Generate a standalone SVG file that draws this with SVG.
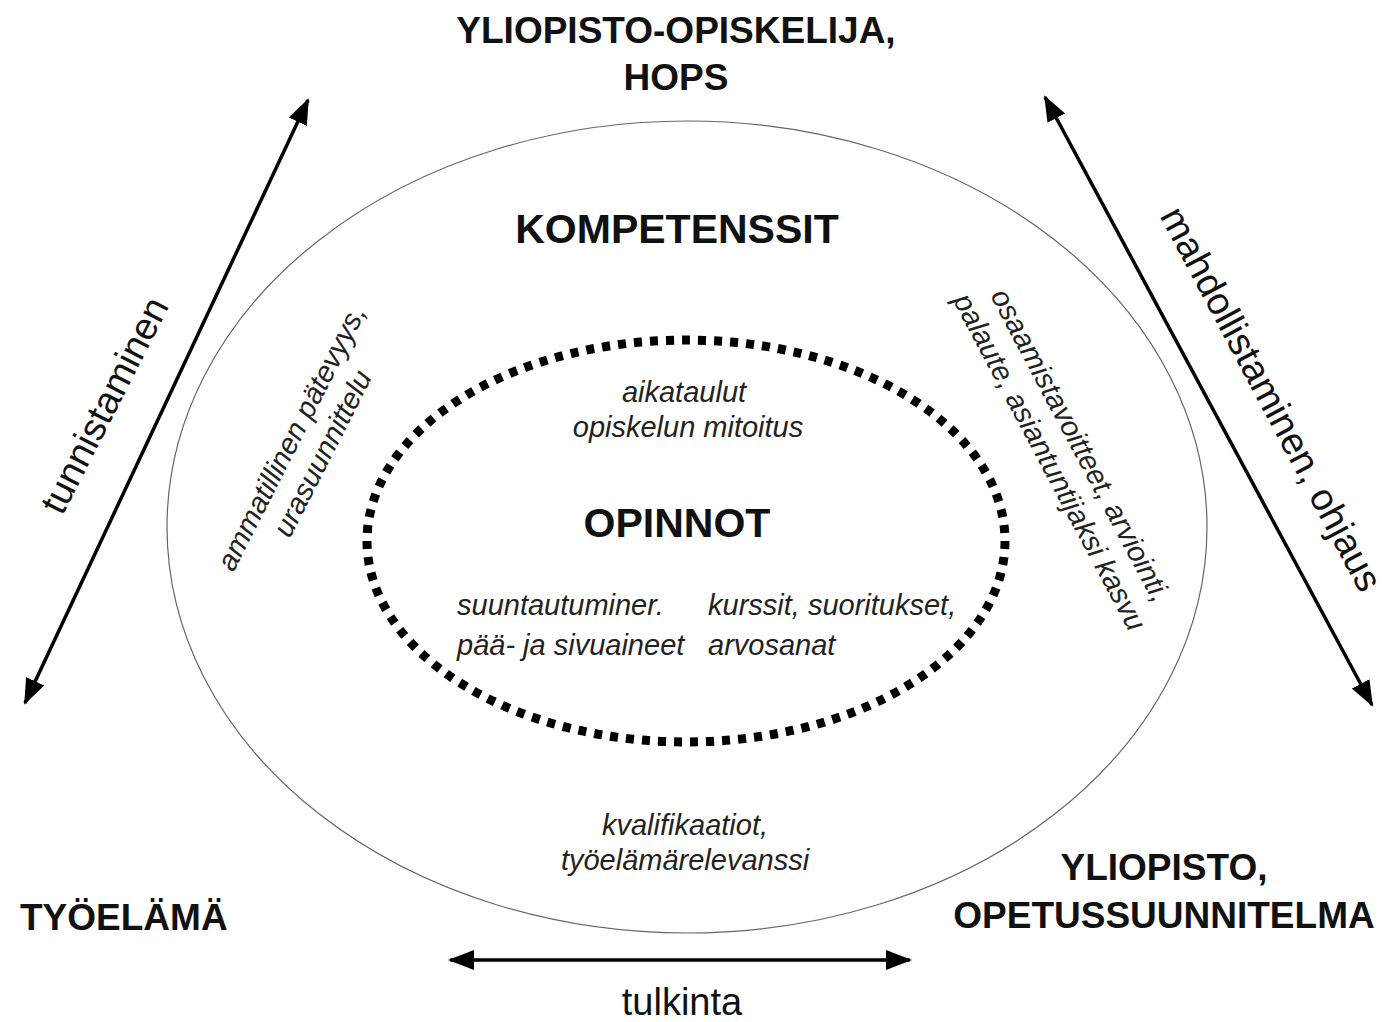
<svg xmlns="http://www.w3.org/2000/svg" width="1393" height="1022" viewBox="0 0 1393 1022">
<style>
.b{font-family:"Liberation Sans",Arial,sans-serif;font-weight:bold;fill:#111;}
.i{font-family:"Liberation Sans",Arial,sans-serif;font-style:italic;fill:#222;font-size:29px;}
.r{font-family:"Liberation Sans",Arial,sans-serif;fill:#111;font-size:38px;}
.arr{stroke:#000;stroke-width:3.5;fill:none;marker-start:url(#ah);marker-end:url(#ah);}
</style>
<defs>
<marker id="ah" markerUnits="userSpaceOnUse" markerWidth="28" markerHeight="22" refX="24" refY="10" orient="auto-start-reverse" viewBox="0 0 28 22">
<path d="M0,0 L26,10 L0,20 z" fill="#000"/>
</marker>
</defs>
<rect width="1393" height="1022" fill="#fff"/>
<g id="kompetenssit">
<ellipse cx="687" cy="527" rx="520" ry="406" fill="none" stroke="#666" stroke-width="1.2"/>
<text class="b" x="677" y="243" font-size="41" text-anchor="middle">KOMPETENSSIT</text>
<g transform="translate(300,442) rotate(-63)">
<text class="i" x="0" y="0" text-anchor="middle" font-size="31">ammatillinen pätevyys,</text>
<text class="i" x="0" y="35" text-anchor="middle" font-size="31">urasuunnittelu</text>
</g>
<g transform="translate(1072,450) rotate(62)">
<text class="i" x="0" y="0" text-anchor="middle" font-size="31">osaamistavoitteet, arviointi,</text>
<text class="i" x="0" y="35" text-anchor="middle" font-size="31">palaute, asiantuntijaksi kasvu</text>
</g>
<text class="i" x="685" y="835" text-anchor="middle">kvalifikaatiot,</text>
<text class="i" x="685" y="870" text-anchor="middle">työelämärelevanssi</text>
</g>
<g id="opinnot">
<ellipse cx="686" cy="541" rx="319" ry="201" fill="none" stroke="#000" stroke-width="9" pathLength="1648" stroke-dasharray="8 8"/>
<text class="b" x="677" y="537" font-size="41" text-anchor="middle">OPINNOT</text>
<text class="i" x="684" y="402" text-anchor="middle">aikataulut</text>
<text class="i" x="688" y="437" text-anchor="middle">opiskelun mitoitus</text>
<text class="i" x="457" y="615">suuntautuminer.</text>
<text class="i" x="457" y="655">pää- ja sivuaineet</text>
<text class="i" x="708" y="615">kurssit, suoritukset,</text>
<text class="i" x="708" y="655">arvosanat</text>
</g>
<g id="yliopisto-opiskelija">
<text class="b" x="676" y="43" font-size="37" text-anchor="middle">YLIOPISTO-OPISKELIJA,</text>
<text class="b" x="676" y="90" font-size="37" text-anchor="middle">HOPS</text>
</g>
<g id="tyoelama">
<text class="b" x="20" y="930" font-size="37">TYÖELÄMÄ</text>
</g>
<g id="yliopisto">
<text class="b" x="1164" y="880" font-size="37" text-anchor="middle">YLIOPISTO,</text>
<text class="b" x="1164" y="928" font-size="37" text-anchor="middle">OPETUSSUUNNITELMA</text>
</g>
<g id="connectors">
<line class="arr" x1="25" y1="703" x2="308" y2="100"/>
<line class="arr" x1="1045" y1="97" x2="1372" y2="705"/>
<line class="arr" x1="450" y1="960" x2="910" y2="960" stroke-width="4.5"/>
<g transform="translate(116,411) rotate(-63)">
<text class="r" x="0" y="0" text-anchor="middle">tunnistaminen</text>
</g>
<g transform="translate(1260,405) rotate(62)">
<text class="r" x="0" y="0" text-anchor="middle" font-size="35">mahdollistaminen, ohjaus</text>
</g>
<text class="r" x="682" y="1015" text-anchor="middle" font-size="33">tulkinta</text>
</g>
</svg>
